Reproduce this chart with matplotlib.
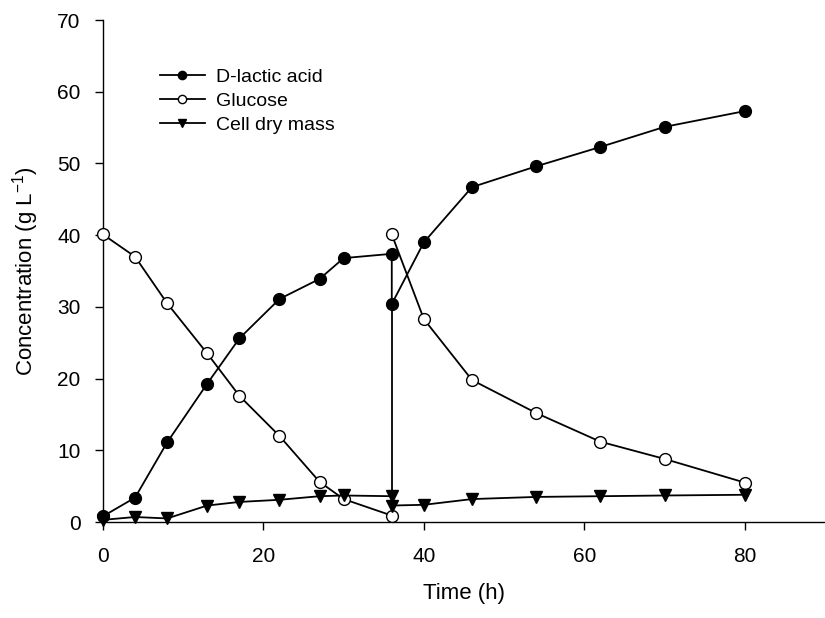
import matplotlib
matplotlib.use('Agg')
import matplotlib.pyplot as plt

plt.rcParams['font.family'] = ['Liberation Sans', 'DejaVu Sans']
plt.rcParams['mathtext.default'] = 'regular'

# sampling times (h); 36 h appears twice (before / after feeding)
time = [0, 4, 8, 13, 17, 22, 27, 30, 36, 36, 40, 46, 54, 62, 70, 80]
lactic = [0.8, 3.4, 11.1, 19.3, 25.6, 31.1, 33.9, 36.8, 37.4, 30.4, 39.0, 46.7, 49.6, 52.3, 55.1, 57.3]
cell = [0.3, 0.7, 0.5, 2.3, 2.8, 3.1, 3.6, 3.7, 3.6, 2.3, 2.4, 3.2, 3.5, 3.6, 3.7, 3.8]

# glucose: drawn as two pieces, before and after the feed at 36 h
glc_time_a = [0, 4, 8, 13, 17, 22, 27, 30, 36]
glc_a = [40.1, 37.0, 30.5, 23.5, 17.6, 12.0, 5.6, 3.2, 0.9]
glc_time_b = [36, 40, 46, 54, 62, 70, 80]
glc_b = [40.1, 28.3, 19.8, 15.2, 11.2, 8.8, 5.5]

fig = plt.figure(figsize=(8.25, 6.18), dpi=100)
ax = fig.add_axes([0.1248, 0.1553, 0.8752, 0.8123])

lw = 1.3
ms = 8.5

# vertical drop at the feeding point
ax.plot([36, 36], [lactic[9], cell[8]], color='black', lw=lw, zorder=2)

ax.plot(time, lactic, color='black', lw=lw, marker='o', ms=ms,
        mfc='black', mec='black', label='D-lactic acid', clip_on=False, zorder=3)
ax.plot(glc_time_a, glc_a, color='black', lw=lw, marker='o', ms=ms,
        mfc='white', mec='black', label='Glucose', clip_on=False, zorder=3)
ax.plot(glc_time_b, glc_b, color='black', lw=lw, marker='o', ms=ms,
        mfc='white', mec='black', clip_on=False, zorder=3)
ax.plot(time, cell, color='black', lw=lw, marker='v', ms=ms + 0.5,
        mfc='black', mec='black', label='Cell dry mass', clip_on=False, zorder=3)

ax.set_xlim(0, 90)
ax.set_ylim(0, 70)
ax.set_xticks([0, 20, 40, 60, 80])
ax.set_yticks(range(0, 71, 10))
ax.spines['top'].set_visible(False)
ax.spines['right'].set_visible(False)
ax.spines['left'].set_linewidth(1.0)
ax.spines['bottom'].set_linewidth(1.0)
ax.tick_params(direction='out', length=6, width=1.0, labelsize=15)
ax.tick_params(axis='x', pad=12)
ax.tick_params(axis='y', pad=10)

ax.set_xlabel('Time (h)', fontsize=16, labelpad=12)
ax.set_ylabel('Concentration (g L$^{-1}$)', fontsize=16, labelpad=12)

fig.legend(loc='upper left', bbox_to_anchor=(0.194, 0.89), frameon=False,
           fontsize=14, handlelength=2.3, handletextpad=0.6, labelspacing=0.33,
           markerscale=0.7, borderpad=0, borderaxespad=0)

fig.savefig('out.png', dpi=100)
